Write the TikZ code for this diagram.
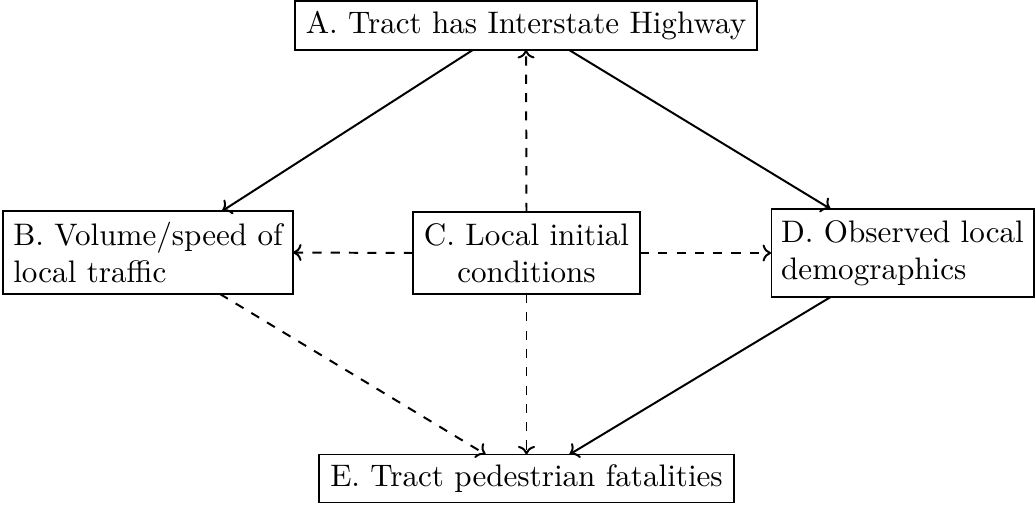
\documentclass[tikz,border=0pt]{standalone}
\usetikzlibrary{calc,arrows.meta}
\begin{document}
\begin{tikzpicture}[x=0.32787pt,y=-0.32787pt,
  box/.style={draw,thin,inner sep=3.3pt,outer sep=0pt,font=\fontsize{10.2}{12.2}\selectfont},
  edge/.style={-{To[width=5.6pt,length=2.8pt]},line width=0.65pt},
  dedge/.style={edge,dashed}]
\useasboundingbox (0,0) rectangle (1036,506);
\node[box,minimum width=151.5pt,minimum height=14.8pt] (A) at (526,25.5) {A. Tract has Interstate Highway};
\node[box,align=left,minimum width=95.1pt,minimum height=27.2pt] (B) at (148,252.5) {B. Volume/speed of\\local traffic};
\node[box,align=center,minimum width=74.4pt,minimum height=26.9pt] (C) at (526.5,253) {C. Local initial\\conditions};
\node[box,align=left,minimum width=85.6pt,minimum height=28.9pt] (D) at (902.5,253) {D. Observed local\\demographics};
\node[box,minimum width=136pt,minimum height=15.4pt] (E) at (526.5,478.5) {E. Tract pedestrian fatalities};
\draw[edge] ([xshift=-17.4pt]A.south) -- ([xshift=24.3pt]B.north);
\draw[edge] ([xshift=14.1pt]A.south) -- ([xshift=-23.6pt]D.north);
\draw[dedge] (C.north) -- (A.south);
\draw[dedge] (C.west) -- (B.east);
\draw[dedge] (C.east) -- (D.west);
\draw[dedge] (C.south) -- (E.north);
\draw[dedge] ([xshift=23.6pt]B.south) -- ([xshift=-13.4pt]E.north);
\draw[edge] ([xshift=-23.6pt]D.south) -- ([xshift=14.1pt]E.north);
\end{tikzpicture}
\end{document}
